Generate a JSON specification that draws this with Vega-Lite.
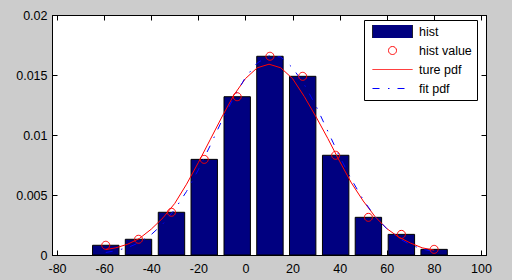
{
  "$schema": "https://vega.github.io/schema/vega-lite/v6.json",
  "width": 434,
  "height": 240,
  "autosize": {"type": "none"},
  "padding": {"left": 52, "top": 15, "right": 26, "bottom": 25},
  "background": "#cccccc",
  "view": {"fill": "white", "stroke": "black", "strokeWidth": 1},
  "config": {
    "axis": {
      "domainColor": "black",
      "domainWidth": 1,
      "tickColor": "black",
      "tickWidth": 1,
      "tickSize": -5,
      "labelColor": "black",
      "labelFont": "Liberation Sans",
      "labelFontSize": 12.5,
      "grid": false,
      "title": null,
      "labelFlush": false,
      "labelOverlap": false,
      "labelBound": false
    }
  },
  "datasets": {
    "hist": [
      {"x": -59.3, "y": 0.00081},
      {"x": -45.4, "y": 0.00131},
      {"x": -31.4, "y": 0.00356},
      {"x": -17.5, "y": 0.00797},
      {"x": -3.5, "y": 0.01319},
      {"x": 10.4, "y": 0.01656},
      {"x": 24.3, "y": 0.01489},
      {"x": 38.3, "y": 0.00831},
      {"x": 52.2, "y": 0.00314},
      {"x": 66.2, "y": 0.00172},
      {"x": 80.1, "y": 0.00047}
    ],
    "truepdf": [
      {"x": -59.3, "y": 0.00045},
      {"x": -55, "y": 0.0006},
      {"x": -50, "y": 0.0009},
      {"x": -45, "y": 0.00138},
      {"x": -40, "y": 0.00215},
      {"x": -35, "y": 0.0031},
      {"x": -30, "y": 0.0043},
      {"x": -25, "y": 0.0059},
      {"x": -20, "y": 0.0077},
      {"x": -15, "y": 0.0096},
      {"x": -10, "y": 0.0115},
      {"x": -5, "y": 0.0133},
      {"x": 0, "y": 0.0147},
      {"x": 5, "y": 0.0156},
      {"x": 10, "y": 0.0159},
      {"x": 15, "y": 0.0156},
      {"x": 20, "y": 0.0147},
      {"x": 25, "y": 0.0132},
      {"x": 30, "y": 0.0115},
      {"x": 35, "y": 0.0097},
      {"x": 40, "y": 0.0078},
      {"x": 45, "y": 0.006},
      {"x": 50, "y": 0.0045},
      {"x": 55, "y": 0.0032},
      {"x": 60, "y": 0.0022},
      {"x": 65, "y": 0.0015},
      {"x": 70, "y": 0.001},
      {"x": 75, "y": 0.0006},
      {"x": 80.1, "y": 0.0004}
    ],
    "fitpdf": [
      {"x": -59.3, "y": 0.00021},
      {"x": -55, "y": 0.00036},
      {"x": -50, "y": 0.00062},
      {"x": -45, "y": 0.00104},
      {"x": -40, "y": 0.0017},
      {"x": -35, "y": 0.0026},
      {"x": -30, "y": 0.0038},
      {"x": -25, "y": 0.0053},
      {"x": -20, "y": 0.0071},
      {"x": -15, "y": 0.0091},
      {"x": -10, "y": 0.0112},
      {"x": -5, "y": 0.0131},
      {"x": 0, "y": 0.0148},
      {"x": 5, "y": 0.016},
      {"x": 10, "y": 0.0166},
      {"x": 15, "y": 0.0165},
      {"x": 20, "y": 0.0156},
      {"x": 25, "y": 0.0142},
      {"x": 30, "y": 0.0124},
      {"x": 35, "y": 0.0103},
      {"x": 40, "y": 0.0082},
      {"x": 45, "y": 0.0063},
      {"x": 50, "y": 0.0046},
      {"x": 55, "y": 0.0032},
      {"x": 60, "y": 0.0022},
      {"x": 65, "y": 0.0014},
      {"x": 70, "y": 0.00085},
      {"x": 75, "y": 0.0005},
      {"x": 80.1, "y": 0.00028}
    ]
  },
  "layer": [
    {
      "data": {"name": "hist"},
      "mark": {"type": "bar", "width": 26.4, "fill": "#000080", "stroke": "black", "strokeWidth": 1, "opacity": 1},
      "encoding": {
        "x": {
          "field": "x", "type": "quantitative",
          "scale": {"domain": [-80, 100], "nice": false, "zero": false},
          "axis": {"orient": "bottom", "values": [-80, -60, -40, -20, 0, 20, 40, 60, 80, 100], "labelPadding": 12, "labelFlush": false, "labelExpr": "'' + datum.value"}
        },
        "y": {
          "field": "y", "type": "quantitative",
          "scale": {"domain": [0, 0.02], "nice": false},
          "axis": {"orient": "left", "values": [0, 0.005, 0.01, 0.015, 0.02], "labelPadding": 10, "labelFlush": false, "labelExpr": "'' + datum.value"}
        }
      }
    },
    {
      "data": {"name": "truepdf"},
      "mark": {"type": "line", "strokeWidth": 1, "stroke": "#ff0000"},
      "encoding": {
        "x": {"field": "x", "type": "quantitative", "scale": {"domain": [-80, 100], "nice": false, "zero": false}, "axis": null},
        "y": {"field": "y", "type": "quantitative", "scale": {"domain": [0, 0.02], "nice": false}, "axis": null}
      }
    },
    {
      "data": {"name": "fitpdf"},
      "mark": {"type": "line", "strokeWidth": 1, "stroke": "#0000ff", "strokeDash": [7, 8.5, 1.5, 8]},
      "encoding": {
        "x": {"field": "x", "type": "quantitative", "scale": {"domain": [-80, 100], "nice": false, "zero": false}, "axis": null},
        "y": {"field": "y", "type": "quantitative", "scale": {"domain": [0, 0.02], "nice": false}, "axis": null}
      }
    },
    {
      "data": {"name": "hist"},
      "mark": {"type": "point", "filled": false, "size": 1600, "strokeWidth": 1, "opacity": 1},
      "encoding": {
        "x": {
          "field": "x", "type": "quantitative",
          "scale": {"domain": [-80, 100], "nice": false, "zero": false},
          "axis": {"orient": "top", "labels": false, "values": [-80, -60, -40, -20, 0, 20, 40, 60, 80, 100]}
        },
        "y": {
          "field": "y", "type": "quantitative",
          "scale": {"domain": [0, 0.02], "nice": false},
          "axis": {"orient": "right", "labels": false, "values": [0, 0.005, 0.01, 0.015, 0.02]}
        },
        "color": {
          "datum": "hist value", "type": "nominal",
          "scale": {"domain": ["hist", "hist value", "ture pdf", "fit pdf"], "range": ["black", "#ff0000", "#ff0000", "#0000ff"]},
          "legend": {
            "orient": "none",
            "legendX": 312,
            "legendY": 5,
            "title": null,
            "fillColor": "white",
            "strokeColor": "black",
            "padding": 5,
            "cornerRadius": 0,
            "symbolSize": 1600,
            "symbolStrokeWidth": 1,
            "symbolOpacity": 1,
            "symbolOffset": 3,
            "clipHeight": 13,
            "labelFont": "Liberation Sans",
            "labelFontSize": 12.5,
            "labelColor": "black",
            "labelOffset": 6,
            "rowPadding": 6
          }
        },
        "fill": {
          "datum": "hist value", "type": "nominal",
          "scale": {"domain": ["hist", "hist value", "ture pdf", "fit pdf"], "range": ["#000080", "transparent", "transparent", "transparent"]}
        },
        "shape": {
          "datum": "hist value", "type": "nominal",
          "scale": {"domain": ["hist", "hist value", "ture pdf", "fit pdf"], "range": ["M-1 -0.35H1V0.35H-1Z", "M0.2 0A0.2 0.2 0 1 1 -0.2 0A0.2 0.2 0 1 1 0.2 0Z", "M-1 0H1", "M-1 0H1"]}
        },
        "strokeDash": {
          "datum": "hist value", "type": "nominal",
          "scale": {"domain": ["hist", "hist value", "ture pdf", "fit pdf"], "range": [[1, 0], [1, 0], [1, 0], [7, 8.5, 1.5, 8]]}
        }
      }
    }
  ],
  "resolve": {"axis": {"x": "independent", "y": "independent"}}
}
